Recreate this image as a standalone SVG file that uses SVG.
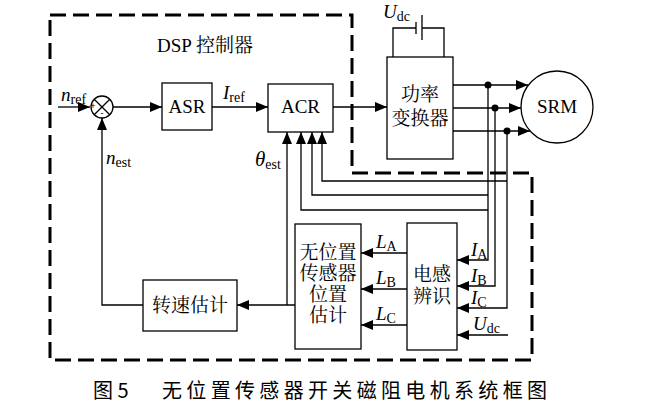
<svg xmlns="http://www.w3.org/2000/svg" width="650" height="406" viewBox="0 0 650 406">
<defs>
<marker id="ah" markerUnits="userSpaceOnUse" markerWidth="12" markerHeight="10" refX="12" refY="5" orient="auto">
<path d="M0,0 L12,5 L0,10 Z" fill="#000"/>
</marker>
<style>
.box{fill:#fff;stroke:#000;stroke-width:1.3}
.ln{fill:none;stroke:#000;stroke-width:1.3}
.arr{fill:none;stroke:#000;stroke-width:1.3;marker-end:url(#ah)}
.t{font-family:"Liberation Serif","Noto Sans CJK SC",serif;font-size:19px;fill:#000;text-anchor:middle}
.cn{font-family:"Liberation Serif","Noto Serif CJK SC","Noto Sans CJK SC",serif;font-size:19px;fill:#000;text-anchor:middle}
.m{font-family:"Liberation Serif",serif;font-size:19px;font-style:italic;fill:#000}
.s{font-size:14px;font-style:normal}
.dot{fill:#000}
.cap{font-family:"Noto Sans CJK SC",sans-serif;font-size:20px;fill:#000}
</style>
</defs>
<rect width="650" height="406" fill="#fff"/>
<g id="dsp-border">
<path d="M50,15 H352 V173 H532 V360 H50 Z" fill="none" stroke="#000" stroke-width="3" stroke-dasharray="16 7"/>
<text class="cn" x="205" y="52">DSP 控制器</text>
</g>
<g id="sum">
<circle cx="102" cy="107" r="11" fill="#fff" stroke="#000" stroke-width="1.3"/>
<path d="M94.2,99.2 L109.8,114.8 M109.8,99.2 L94.2,114.8" class="ln"/>
<text x="93" y="109" style="font-family:'Liberation Sans',sans-serif;font-size:9px" text-anchor="middle">+</text>
<text x="102" y="116" style="font-family:'Liberation Sans',sans-serif;font-size:9px" text-anchor="middle">-</text>
</g>
<g id="asr">
<rect class="box" x="162" y="83" width="50" height="47"/>
<text class="t" x="187" y="113">ASR</text>
</g>
<g id="acr">
<rect class="box" x="268" y="84" width="65" height="48"/>
<text class="t" x="300.5" y="113">ACR</text>
</g>
<g id="converter">
<rect class="box" x="387" y="57" width="66" height="102"/>
<text class="cn" x="420" y="101">功率</text>
<text class="cn" x="420" y="125">变换器</text>
</g>
<g id="srm">
<circle cx="557" cy="107" r="36" fill="#fff" stroke="#000" stroke-width="1.3"/>
<text class="t" x="557" y="113">SRM</text>
</g>
<g id="udc-source">
<path class="ln" d="M393,57 V28 H416 M422,28 H444 V57"/>
<path class="ln" d="M416,22 V34 M422,15 V40"/>
<text class="m" x="383" y="18">U<tspan class="s" dy="3">dc</tspan></text>
</g>
<g id="speed-est">
<rect class="box" x="143" y="280" width="94" height="51"/>
<text class="cn" x="190" y="312">转速估计</text>
</g>
<g id="pos-est">
<rect class="box" x="295" y="224" width="66" height="125"/>
<text class="cn" x="328" y="259">无位置</text>
<text class="cn" x="328" y="280">传感器</text>
<text class="cn" x="328" y="301">位置</text>
<text class="cn" x="328" y="322">估计</text>
</g>
<g id="ind-id">
<rect class="box" x="407" y="223" width="50" height="127"/>
<text class="cn" x="432" y="281">电感</text>
<text class="cn" x="432" y="303">辨识</text>
</g>
<g id="connectors">
<path class="arr" d="M58,107 H90"/>
<path class="arr" d="M113,107 H162"/>
<path class="arr" d="M212,107 H268"/>
<path class="arr" d="M333,107 H387"/>
<path class="arr" d="M453,85 H528"/>
<path class="arr" d="M453,108 H521"/>
<path class="arr" d="M453,131 H530"/>
<path class="arr" d="M488,85 V260 H457"/>
<path class="arr" d="M495,108 V286 H457"/>
<path class="arr" d="M507,131 V308 H457"/>
<path class="arr" d="M508,335 H457"/>
<path class="arr" d="M507,181 H322 V132"/>
<path class="arr" d="M488,195 H312 V132"/>
<path class="arr" d="M488,210 H301 V132"/>
<path class="arr" d="M407,253 H361"/>
<path class="arr" d="M407,289 H361"/>
<path class="arr" d="M407,325 H361"/>
<path class="arr" d="M295,305 H237"/>
<path class="arr" d="M287,305 V132"/>
<path class="arr" d="M143,305 H102 V118"/>
<circle class="dot" cx="488" cy="85" r="3.5"/>
<circle class="dot" cx="495" cy="108" r="3.5"/>
<circle class="dot" cx="507" cy="131" r="3.5"/>
</g>
<g id="labels">
<text class="m" x="61" y="101">n<tspan class="s" dy="3">ref</tspan></text>
<text class="m" x="223" y="99">I<tspan class="s" dy="3">ref</tspan></text>
<text class="m" x="106" y="164">n<tspan class="s" dy="3">est</tspan></text>
<text class="m" x="255" y="166" style="font-size:21px">θ<tspan class="s" dy="3">est</tspan></text>
<text class="m" x="376" y="248">L<tspan class="s" dy="3">A</tspan></text>
<text class="m" x="376" y="284">L<tspan class="s" dy="3">B</tspan></text>
<text class="m" x="376" y="320">L<tspan class="s" dy="3">C</tspan></text>
<text class="m" x="471" y="256">I<tspan class="s" dy="3">A</tspan></text>
<text class="m" x="471" y="282">I<tspan class="s" dy="3">B</tspan></text>
<text class="m" x="471" y="304">I<tspan class="s" dy="3">C</tspan></text>
<text class="m" x="473" y="330">U<tspan class="s" dy="3">dc</tspan></text>
</g>
<g id="caption">
<text class="cap" x="93" y="398">图 5</text>
<text class="cap" x="162" y="398" textLength="385">无位置传感器开关磁阻电机系统框图</text>
</g>
</svg>
